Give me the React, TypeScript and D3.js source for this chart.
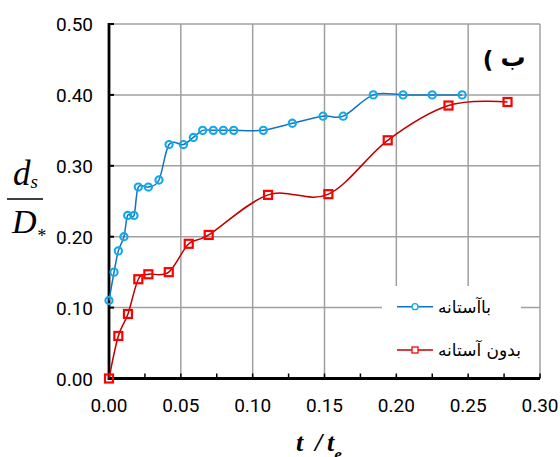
import React from "react";
import * as d3 from "d3";

const blueX = [0, 0.0035, 0.0065, 0.0104, 0.013, 0.0174, 0.0204, 0.0274, 0.0348, 0.0418, 0.0518, 0.0587, 0.0652, 0.0726, 0.0796, 0.0868, 0.1074, 0.1276, 0.149, 0.163, 0.184, 0.2047, 0.225, 0.2458];
const blueY = [0.11, 0.15, 0.18, 0.2, 0.23, 0.23, 0.27, 0.27, 0.28, 0.33, 0.33, 0.34, 0.35, 0.35, 0.35, 0.35, 0.35, 0.36, 0.37, 0.37, 0.4, 0.4, 0.4, 0.4];

const redX = [0, 0.0065, 0.0132, 0.0204, 0.0274, 0.0416, 0.0555, 0.0694, 0.1107, 0.1527, 0.194, 0.2363, 0.2774];
const redY = [0, 0.06, 0.091, 0.14, 0.147, 0.15, 0.19, 0.2025, 0.259, 0.26, 0.336, 0.385, 0.39];

const xTicks = [0, 0.05, 0.1, 0.15, 0.2, 0.25, 0.3];
const xMinorTicks = [0.025, 0.075, 0.125, 0.175, 0.225, 0.275];
const yTicks = [0, 0.1, 0.2, 0.3, 0.4, 0.5];

const legendLabels = ["باآستانه", "بدون آستانه"];
const panelLetter = "ب";

export default function App() {
  const W = 560, H = 457;
  const x = d3.scaleLinear().domain([0, 0.3]).range([109, 540]);
  const y = d3.scaleLinear().domain([0, 0.5]).range([378.5, 24]);

  const line = d3
    .line<[number, number]>()
    .x((d) => x(d[0]))
    .y((d) => y(d[1]))
    .curve(d3.curveCatmullRom.alpha(0));

  const blue: [number, number][] = blueX.map((v, i) => [v, blueY[i]]);
  const red: [number, number][] = redX.map((v, i) => [v, redY[i]]);

  const blueLine = "#1372C2";
  const blueMarker = "#12A9EA";
  const redLine = "#C00000";
  const redMarker = "#FF0000";
  const grid = "#A0A0A0";
  const tickFont = "'Liberation Sans Narrow', 'Arial Narrow', Roboto, sans-serif";
  const arabicFont = "'DejaVu Sans', 'Noto Sans', sans-serif";
  const serif = "'Liberation Serif', 'Times New Roman', serif";

  const lx0 = 397, lx1 = 433, ltx = 438;
  const ly = [306.7, 350];

  return (
    <svg width={W} height={H} style={{ position: "absolute", left: 0, top: 0, background: "#fff" }}>
      <rect x={0} y={0} width={W} height={H} fill="#fff" />
      {/* grid */}
      {xTicks.map((t) => (
        <line key={"gx" + t} x1={x(t)} x2={x(t)} y1={y(0.5)} y2={y(0)} stroke={grid} strokeWidth={1.5} />
      ))}
      {yTicks.map((t) => (
        <line key={"gy" + t} x1={x(0)} x2={x(0.3)} y1={y(t)} y2={y(t)} stroke={grid} strokeWidth={1.5} />
      ))}

      {/* legend background */}
      <rect x={382} y={286} width={139} height={89} fill="#fff" />

      {/* axes */}
      <line x1={x(0)} x2={x(0)} y1={y(0.5) - 1} y2={y(0) + 1.5} stroke="#000" strokeWidth={2.8} />
      <line x1={x(0) - 1} x2={x(0.3)} y1={y(0)} y2={y(0)} stroke="#000" strokeWidth={2.8} />
      {xMinorTicks.concat(xTicks).map((t) => (
        <line key={"tx" + t} x1={x(t)} x2={x(t)} y1={y(0)} y2={y(0) - 5} stroke="#000" strokeWidth={1.5} />
      ))}
      {yTicks.map((t) => (
        <line key={"ty" + t} x1={x(0)} x2={x(0) + 5} y1={y(t)} y2={y(t)} stroke="#000" strokeWidth={2} />
      ))}

      {/* tick labels */}
      {xTicks.map((t) => (
        <text key={"lx" + t} x={x(t)} y={412} textAnchor="middle" fontFamily={tickFont} fontSize={19} fill="#000">
          {t.toFixed(2)}
        </text>
      ))}
      {yTicks.map((t) => (
        <text key={"ly" + t} x={93} y={y(t) + 7} textAnchor="end" fontFamily={tickFont} fontSize={19} fill="#000">
          {t.toFixed(2)}
        </text>
      ))}

      {/* series lines */}
      <path d={line(red) || ""} fill="none" stroke={redLine} strokeWidth={1.5} />
      <path d={line(blue) || ""} fill="none" stroke={blueLine} strokeWidth={1.5} />

      {/* markers */}
      {red.map((d, i) => (
        <rect key={"rm" + i} x={x(d[0]) - 4} y={y(d[1]) - 4} width={8} height={8} fill="none" stroke={redMarker} strokeWidth={2.2} />
      ))}
      {blue.map((d, i) => (
        <circle key={"bm" + i} cx={x(d[0])} cy={y(d[1])} r={3.6} fill="none" stroke={blueMarker} strokeWidth={2.1} />
      ))}

      {/* legend */}
      <line x1={lx0} x2={lx1} y1={ly[0]} y2={ly[0]} stroke={blueLine} strokeWidth={1.5} />
      <circle cx={(lx0 + lx1) / 2} cy={ly[0]} r={3} fill="#fff" stroke={blueMarker} strokeWidth={1.3} />
      <line x1={lx0} x2={lx1} y1={ly[1]} y2={ly[1]} stroke={redLine} strokeWidth={1.5} />
      <rect x={(lx0 + lx1) / 2 - 3} y={ly[1] - 3} width={6} height={6} fill="#fff" stroke={redMarker} strokeWidth={1.3} />
      {legendLabels.map((s, i) => (
        <text key={"lg" + i} x={ltx} y={ly[i] + 6} fontFamily={arabicFont} fontSize={17} fill="#000">
          {s}
        </text>
      ))}

      {/* panel label: "ب)" drawn right-to-left: letter on the right, bracket on the left */}
      <text x={488} y={68} textAnchor="middle" fontFamily={arabicFont} fontWeight="bold" fontSize={23} fill="#000">
        (
      </text>
      <text x={513} y={66} textAnchor="middle" fontFamily={arabicFont} fontWeight="bold" fontSize={25} fill="#000">
        {panelLetter}
      </text>

      {/* y label */}
      <text x={13} y={185} fontFamily={serif} fontStyle="italic" fontSize={35} fill="#000">
        d
        <tspan fontSize={19} dy={3}>s</tspan>
      </text>
      <line x1={7} x2={43} y1={199} y2={199} stroke="#000" strokeWidth={1.5} />
      <text x={12} y={233} fontFamily={serif} fontStyle="italic" fontSize={34} fill="#000">
        D
        <tspan fontSize={18} dy={9}>*</tspan>
      </text>

      {/* x label */}
      <text y={451} fontFamily={serif} fontStyle="italic" fontWeight="bold" fontSize={26} fill="#000">
        <tspan x={296}>t</tspan>
        <tspan x={315}>/</tspan>
        <tspan x={327}>t</tspan>
        <tspan fontSize={17} dy={9}>e</tspan>
      </text>
    </svg>
  );
}
